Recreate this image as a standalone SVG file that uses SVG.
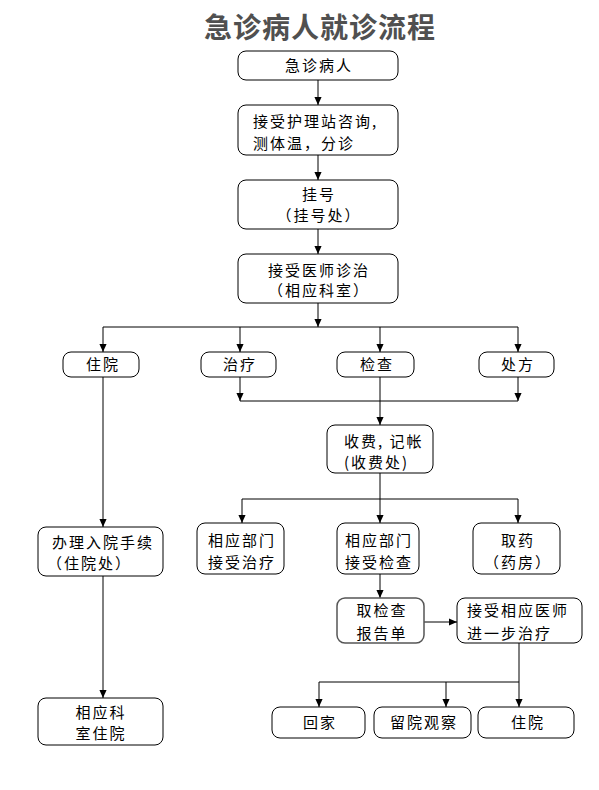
<svg xmlns="http://www.w3.org/2000/svg" width="599" height="790" viewBox="0 0 599 790">
<style>
.box{fill:#fff;stroke:#000;stroke-width:1}
.t{font-family:"Noto Sans CJK SC","Liberation Sans",sans-serif;font-size:15px;letter-spacing:2px;fill:#000}
.m{text-anchor:middle}
.title{font-family:"Noto Sans CJK SC","Liberation Sans",sans-serif;font-size:28px;font-weight:bold;fill:#505050;text-anchor:middle;letter-spacing:1px}
.c{fill:none;stroke:#000;stroke-width:1}
</style>
<defs>
<marker id="ah" markerWidth="8" markerHeight="9" refX="9" refY="4" orient="auto" markerUnits="userSpaceOnUse" viewBox="0 0 9 8">
<path d="M0,0 L9,4 L0,8 z" fill="#000"/>
</marker>
</defs>
<rect width="599" height="790" fill="#fff"/>
<text class="title" x="320" y="38">急诊病人就诊流程</text>

<g id="connectors">
<path class="c" d="M318,80 V105" marker-end="url(#ah)"/>
<path class="c" d="M318,155 V180" marker-end="url(#ah)"/>
<path class="c" d="M318,229 V254" marker-end="url(#ah)"/>
<path class="c" d="M318,303 V327" marker-end="url(#ah)"/>
<path class="c" d="M103,327 H518"/>
<path class="c" d="M103,327 V352" marker-end="url(#ah)"/>
<path class="c" d="M240,327 V352" marker-end="url(#ah)"/>
<path class="c" d="M380,327 V352" marker-end="url(#ah)"/>
<path class="c" d="M518,327 V352" marker-end="url(#ah)"/>
<path class="c" d="M240,377 V401" marker-end="url(#ah)"/>
<path class="c" d="M518,377 V401" marker-end="url(#ah)"/>
<path class="c" d="M240,401 H518"/>
<path class="c" d="M380,377 V425" marker-end="url(#ah)"/>
<path class="c" d="M103,377 V527" marker-end="url(#ah)"/>
<path class="c" d="M380,473 V523" marker-end="url(#ah)"/>
<path class="c" d="M242,499 H518"/>
<path class="c" d="M242,499 V523" marker-end="url(#ah)"/>
<path class="c" d="M518,499 V523" marker-end="url(#ah)"/>
<path class="c" d="M103,576 V698" marker-end="url(#ah)"/>
<path class="c" d="M380,574 V598" marker-end="url(#ah)"/>
<path class="c" d="M424,622 H457" marker-end="url(#ah)"/>
<path class="c" d="M519,643 V707" marker-end="url(#ah)"/>
<path class="c" d="M319,682 H519"/>
<path class="c" d="M319,682 V707" marker-end="url(#ah)"/>
<path class="c" d="M446,682 V707" marker-end="url(#ah)"/>
</g>

<g id="n1"><rect class="box" x="238" y="51" width="160" height="29" rx="8"/><text class="t m" x="319" y="71">急诊病人</text></g>
<g id="n2"><rect class="box" x="238" y="105" width="160" height="50" rx="8"/><text class="t" x="253" y="127">接受护理站咨询,</text><text class="t" x="253" y="149">测体温，分诊</text></g>
<g id="n3"><rect class="box" x="238" y="180" width="160" height="49" rx="8"/><text class="t m" x="319" y="200">挂号</text><text class="t m" x="319" y="221">（挂号处）</text></g>
<g id="n4"><rect class="box" x="238" y="254" width="160" height="49" rx="8"/><text class="t m" x="319" y="276">接受医师诊治</text><text class="t m" x="319" y="296">（相应科室）</text></g>

<g id="n5"><rect class="box" x="63" y="352" width="76" height="25" rx="8"/><text class="t m" x="103" y="370">住院</text></g>
<g id="n6"><rect class="box" x="201" y="352" width="75" height="25" rx="8"/><text class="t m" x="240" y="370">治疗</text></g>
<g id="n7"><rect class="box" x="337" y="352" width="77" height="25" rx="8"/><text class="t m" x="377" y="370">检查</text></g>
<g id="n8"><rect class="box" x="479" y="352" width="75" height="25" rx="8"/><text class="t m" x="518" y="370">处方</text></g>

<g id="n9"><rect class="box" x="327" y="425" width="106" height="48" rx="8"/><text class="t" x="344" y="447">收费, 记帐</text><text class="t" x="344" y="468">(收费处)</text></g>

<g id="n10"><rect class="box" x="38" y="527" width="125" height="49" rx="8"/><text class="t" x="52" y="548">办理入院手续</text><text class="t" x="47" y="569">（住院处）</text></g>
<g id="n11"><rect class="box" x="197" y="523" width="87" height="51" rx="8"/><text class="t m" x="242" y="546">相应部门</text><text class="t m" x="242" y="568">接受治疗</text></g>
<g id="n12"><rect class="box" x="337" y="523" width="82" height="51" rx="8"/><text class="t m" x="379" y="546">相应部门</text><text class="t m" x="379" y="568">接受检查</text></g>
<g id="n13"><rect class="box" x="473" y="523" width="87" height="51" rx="8"/><text class="t m" x="518" y="546">取药</text><text class="t m" x="518" y="568">（药房）</text></g>

<g id="n14"><rect class="box" x="337" y="598" width="87" height="45" rx="8" style="stroke:#555;stroke-width:1.5"/><text class="t m" x="382" y="616">取检查</text><text class="t m" x="382" y="639">报告单</text></g>
<g id="n15"><rect class="box" x="457" y="598" width="125" height="45" rx="8"/><text class="t" x="467" y="616">接受相应医师</text><text class="t" x="467" y="639">进一步治疗</text></g>

<g id="n16"><rect class="box" x="38" y="698" width="125" height="47" rx="8"/><text class="t m" x="101" y="718">相应科</text><text class="t m" x="101" y="739">室住院</text></g>
<g id="n17"><rect class="box" x="272" y="707" width="93" height="31" rx="8"/><text class="t m" x="320" y="728">回家</text></g>
<g id="n18"><rect class="box" x="374" y="707" width="97" height="31" rx="8"/><text class="t m" x="424" y="728">留院观察</text></g>
<g id="n19"><rect class="box" x="478" y="707" width="96" height="31" rx="8"/><text class="t m" x="528" y="728">住院</text></g>
</svg>
